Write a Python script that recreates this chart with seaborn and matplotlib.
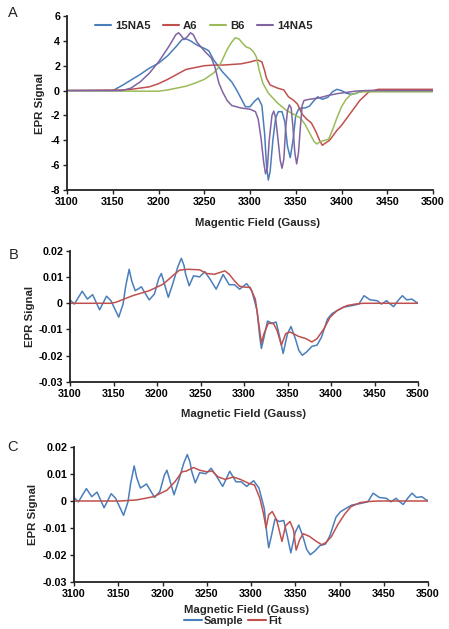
import matplotlib
matplotlib.use("Agg")
import matplotlib.pyplot as plt
import seaborn as sns
import pandas as pd
from matplotlib.ticker import FuncFormatter
from matplotlib.lines import Line2D

# ---------------- Panel A data ----------------
na15_x = [3100,3150,3155,3160,3170,3180,3190,3200,3210,3220,3225,3228,3232,3235,3240,3245,3250,3255,3260,3265,3270,3275,
          3280,3285,3290,3295,3300,3305,3309,3313,3316,3318,3320,3322,3325,3328,3331,3335,3338,3341,3344,3347,
          3350,3353,3356,3360,3365,3370,3374,3379,3385,3390,3395,3400,3405,3410,3415,3420,3430,3500]
na15_y = [0,0,0.2,0.4,0.85,1.3,1.8,2.2,2.8,3.6,4.05,4.2,4.1,4.0,3.75,3.55,3.4,3.2,2.5,2.0,1.5,1.1,
          0.7,0.1,-0.6,-1.3,-1.3,-0.85,-0.6,-1.2,-3.5,-6.0,-7.2,-6.5,-4.0,-2.2,-1.7,-1.7,-2.5,-4.5,-5.4,-4.0,
          -2.0,-1.5,-1.4,-1.4,-1.25,-0.8,-0.5,-0.7,-0.55,-0.1,0.1,0.0,-0.2,-0.3,-0.25,-0.1,0,0]

a6_x = [3100,3165,3180,3190,3200,3210,3220,3230,3240,3250,3260,3270,3280,3290,3300,3305,3309,3313,3316,3318,
        3322,3330,3337,3342,3348,3352,3357,3362,3367,3372,3376,3379,3383,3387,3391,3395,3400,3410,3420,3430,3440,3500]
a6_y = [0,0.05,0.2,0.3,0.55,0.9,1.3,1.7,1.85,2.0,2.05,2.05,2.1,2.15,2.3,2.4,2.45,2.3,1.6,1.0,
        0.45,0.2,0.05,-0.5,-0.8,-1.1,-1.9,-2.3,-2.6,-3.3,-4.0,-4.4,-4.2,-4.0,-3.6,-3.2,-2.8,-1.8,-0.8,-0.1,0.1,0.1]

b6_x = [3100,3180,3200,3210,3220,3230,3240,3250,3260,3265,3270,3275,3280,3284,3288,3292,3296,3300,3304,3307,
        3310,3314,3320,3325,3330,3340,3350,3355,3360,3365,3370,3373,3377,3382,3386,3390,3395,3400,3405,3410,3420,3430,3500]
b6_y = [0,-0.05,-0.05,0.05,0.2,0.35,0.6,0.9,1.4,1.8,2.5,3.3,3.9,4.25,4.15,3.8,3.5,3.4,3.1,2.7,
        1.65,0.6,-0.2,-0.6,-1.0,-1.6,-2.0,-2.2,-2.7,-3.4,-4.1,-4.3,-4.1,-4.0,-3.9,-3.2,-2.2,-1.3,-0.7,-0.35,-0.1,-0.1,-0.1]

na14_x = [3100,3160,3170,3180,3190,3200,3210,3215,3219,3222,3225,3228,3231,3235,3238,3242,3250,3258,3262,3266,
          3270,3275,3280,3290,3300,3306,3309,3312,3315,3317,3319,3321,3324,3326,3328,3331,3333,3335,3337,3339,
          3341,3343,3345,3347,3349,3351,3353,3355,3357,3359,3365,3375,3385,3395,3405,3415,3425,3435,3500]
na14_y = [0,0,0.2,0.7,1.4,2.3,3.4,4.0,4.5,4.65,4.4,4.1,4.3,4.65,4.5,3.9,3.2,2.6,1.8,0.6,
          -0.1,-0.8,-1.2,-1.4,-1.5,-1.7,-2.3,-3.8,-5.8,-6.7,-6.2,-4.0,-2.0,-1.65,-2.2,-4.2,-5.6,-6.25,-5.5,-3.0,
          -1.6,-1.15,-1.4,-3.0,-5.0,-5.9,-5.0,-3.0,-1.2,-0.8,-0.7,-0.6,-0.4,-0.25,-0.15,-0.05,0,0,0]

# ---------------- Panels B / C data ----------------
sample_x = [3099,3105,3114,3120,3126,3134,3142,3147,3156,3161,3164,3168,3171,3175,3182,3191,3197,3202,3205,3208,3213,3218,3224,3228,3231,
            3233,3237,3242,3249,3255,3261,3268,3276,3283,3289,3295,3303,3309,3315,3318,3320,3323,3327,3332,3337,3341,3345,
            3350,3354,3359,3363,3367,3372,3378,3384,3389,3396,3401,3407,3414,3424,3432,3438,3445,3453,3458,3464,
            3467,3472,3477,3482,3487,3493,3498,3500]
sample_y = [0.0016,-0.0003,0.0046,0.0016,0.0033,-0.0025,0.0027,0.001,-0.0053,-0.0003,0.0065,0.013,0.0085,0.0048,0.0063,0.0013,0.0035,0.0095,0.0114,0.008,0.0023,0.0073,0.014,0.0172,0.0145,
            0.011,0.0067,0.0105,0.0101,0.0121,0.0092,0.0054,0.011,0.0071,0.0071,0.0054,0.0075,0.0048,-0.0028,-0.0125,-0.0173,-0.013,-0.0068,-0.0076,-0.0072,-0.013,-0.0192,
            -0.0116,-0.0089,-0.0135,-0.018,-0.0199,-0.0186,-0.0165,-0.016,-0.013,-0.006,-0.004,-0.0028,-0.0015,-0.0009,-0.0003,0.0029,0.0013,0.001,-0.0003,0.001,
            0.0,-0.0013,0.001,0.0029,0.0013,0.0016,0.0004,0.0002]

fitb_x = [3100,3147,3153,3162,3172,3191,3207,3218,3226,3236,3249,3257,3266,3278,3283,3289,3295,3303,3307,3313,
          3317,3320,3323,3328,3334,3338,3343,3348,3353,3363,3371,3378,3384,3392,3399,3407,3418,3428,3437,3500]
fitb_y = [0,0,0.0004,0.0016,0.0029,0.0048,0.0073,0.0105,0.0127,0.013,0.0128,0.0114,0.0111,0.0124,0.0111,0.0086,0.0065,0.0061,0.0061,0.0016,
          -0.0078,-0.0152,-0.0116,-0.0076,-0.0078,-0.0104,-0.016,-0.0116,-0.011,-0.0127,-0.0135,-0.0148,-0.0135,-0.0097,-0.0053,-0.0028,-0.0009,-0.0003,0,0]

fitc_x = [3100,3152,3171,3190,3205,3214,3222,3227,3235,3242,3250,3256,3263,3271,3280,3288,3297,3304,3310,3314,
          3317,3320,3324,3329,3335,3339,3344,3348,3351,3355,3359,3366,3374,3380,3385,3391,3398,3406,3413,3423,
          3432,3443,3500]
fitc_y = [0,0,0.0004,0.0016,0.004,0.0071,0.0108,0.0111,0.0124,0.0114,0.0108,0.0111,0.0089,0.008,0.0089,0.008,0.0066,0.0059,0.001,-0.0045,
          -0.01,-0.0051,-0.0039,-0.007,-0.015,-0.0092,-0.0076,-0.0107,-0.0182,-0.0143,-0.0121,-0.0131,-0.015,-0.0162,-0.0153,-0.0131,-0.0088,-0.0048,-0.0021,-0.0006,
          -0.0002,0,0]

series_a = ["15NA5", "A6", "B6", "14NA5"]
x_ticks = [3100, 3150, 3200, 3250, 3300, 3350, 3400, 3450, 3500]
a_yticks = [-8, -6, -4, -2, 0, 2, 4, 6]
bc_yticks = [-0.03, -0.02, -0.01, 0, 0.01, 0.02]

BLUE = "#4A7EBB"
RED = "#C0504D"
GREEN = "#9BBB59"
PURPLE = "#8064A2"

sns.set_theme(style="ticks")
plt.rcParams["font.family"] = ["Liberation Sans", "DejaVu Sans"]
plt.rcParams["axes.unicode_minus"] = False
plt.rcParams["lines.solid_joinstyle"] = "round"

W, H = 449, 629
fig = plt.figure(figsize=(W / 100, H / 100), dpi=100)


def ax_px(l, t, r, b):
    return fig.add_axes([l / W, 1 - b / H, (r - l) / W, (b - t) / H])


def style(ax, yticks, yfmt, xlabel, xlabel_y, xlabel_x, ylabel_x):
    ax.set_xlim(3100, 3500)
    ax.set_ylim(yticks[0], yticks[-1])
    ax.set_xticks(x_ticks)
    ax.set_yticks(yticks)
    ax.yaxis.set_major_formatter(FuncFormatter(yfmt))
    for s in ["top", "right"]:
        ax.spines[s].set_visible(False)
    for s in ["left", "bottom"]:
        ax.spines[s].set_linewidth(1.3)
        ax.spines[s].set_color("#222222")
    ax.tick_params(axis="both", direction="out", length=3, width=1.0, colors="#222222",
                   labelsize=7.7, pad=2, labelcolor="black")
    for lab in ax.get_xticklabels() + ax.get_yticklabels():
        lab.set_fontweight("bold")
    ax.set_xlabel(xlabel, fontsize=8.2, fontweight="bold")
    ax.set_ylabel("EPR Signal", fontsize=8.2, fontweight="bold")
    ax.xaxis.set_label_coords(xlabel_x, xlabel_y)
    ax.yaxis.set_label_coords(ylabel_x, 0.5)
    ax.grid(False)


def fmt_int(v, pos):
    return "%d" % round(v)


def fmt_dec(v, pos):
    if abs(v) < 1e-9:
        return "0"
    return "%.2f" % v


# ---------------- Panel A ----------------
axA = ax_px(67, 16, 433, 190)
for name, xs, ys, c in [("15NA5", na15_x, na15_y, BLUE), ("A6", a6_x, a6_y, RED),
                        ("B6", b6_x, b6_y, GREEN), ("14NA5", na14_x, na14_y, PURPLE)]:
    df = pd.DataFrame({"field": xs, "signal": ys})
    sns.lineplot(data=df, x="field", y="signal", ax=axA, color=c, lw=1.1, label=name,
                 estimator=None, sort=False)
style(axA, a_yticks, fmt_int, "Magentic Field (Gauss)", -0.161, 0.52, -0.060)
leg = axA.legend(loc="center", bbox_to_anchor=(0.374, 0.943), ncol=4, frameon=False,
                 prop={"weight": "bold", "size": 8.2}, handlelength=1.4, handletextpad=0.35,
                 columnspacing=1.1)
for h in leg.get_lines():
    h.set_linewidth(1.5)

# ---------------- Panel B ----------------
axB = ax_px(70, 251, 418, 381.7)
sns.lineplot(x=sample_x, y=sample_y, ax=axB, color=BLUE, lw=1.1, estimator=None, sort=False)
sns.lineplot(x=fitb_x, y=fitb_y, ax=axB, color=RED, lw=1.1, estimator=None, sort=False)
style(axB, bc_yticks, fmt_dec, "Magnetic Field (Gauss)", -0.209, 0.4986, -0.1006)

# ---------------- Panel C ----------------
axC = ax_px(74, 447, 428, 582)
sns.lineplot(x=sample_x, y=sample_y, ax=axC, color=BLUE, lw=1.1, estimator=None, sort=False)
sns.lineplot(x=fitc_x, y=fitc_y, ax=axC, color=RED, lw=1.1, estimator=None, sort=False)
style(axC, bc_yticks, fmt_dec, "Magnetic Field (Gauss)", -0.170, 0.488, -0.1017)

handles = [Line2D([], [], color=BLUE, lw=1.5), Line2D([], [], color=RED, lw=1.5)]
fig.legend(handles, ["Sample", "Fit"], loc="center", bbox_to_anchor=(233 / W, 1 - 621 / H),
           ncol=2, frameon=False, prop={"weight": "bold", "size": 8}, handlelength=1.6,
           handletextpad=0.2, columnspacing=0.4, borderpad=0.1)

# panel letters
for letter, (px, py) in {"A": (13, 13), "B": (14, 255), "C": (12.5, 447)}.items():
    fig.text(px / W, 1 - py / H, letter, fontsize=10.5, ha="center", va="center")

fig.savefig("out.png", dpi=100)
